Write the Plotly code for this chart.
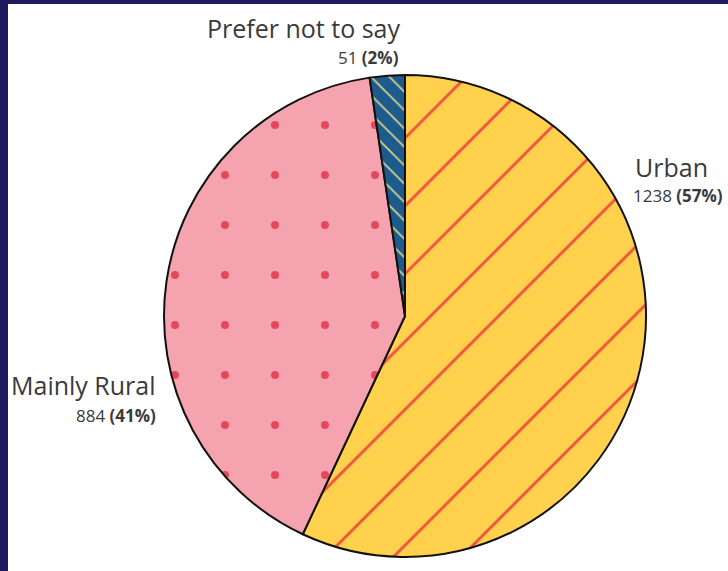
import plotly.graph_objects as go

# Respondent area type
categories = ["Urban", "Mainly Rural", "Prefer not to say"]
counts = [1238, 884, 51]
percent_labels = ["57%", "41%", "2%"]

fill_colors = ["#FFD14C", "#F5A4AF", "#1D5B8C"]
pattern_shapes = ["/", ".", "\\"]
pattern_colors = ["#EE5340", "#E4485A", "#CFD08C"]
pattern_sizes = [48, 50, 13]
pattern_solidity = [0.06, 0.02, 0.14]

W, H = 728, 571
FRAME = "#1F1B5E"
TEXT = "#3A3A3A"
FONT = "Open Sans"

fig = go.Figure(
    go.Pie(
        labels=categories,
        values=counts,
        sort=False,
        direction="clockwise",
        rotation=0,
        textinfo="none",
        hoverinfo="label+value+percent",
        marker=dict(
            colors=fill_colors,
            line=dict(color="#111111", width=2),
            pattern=dict(
                shape=pattern_shapes,
                fgcolor=pattern_colors,
                bgcolor=fill_colors,
                size=pattern_sizes,
                solidity=pattern_solidity,
                fillmode="replace",
            ),
        ),
        domain=dict(x=[164 / W, 646 / W], y=[(H - 557) / H, (H - 75) / H]),
        showlegend=False,
    )
)

# white card inside the dark frame
fig.add_shape(
    type="rect", xref="paper", yref="paper",
    x0=8 / W, x1=1, y0=0, y1=1 - 4 / H,
    fillcolor="white", line=dict(width=0), layer="below",
)


def px(x):
    return x / W


def py(y):
    return 1 - y / H


labels = [
    # (name, value text, title x, title y, value x, value y, anchor)
    ("Prefer not to say", f"{counts[2]} <b>({percent_labels[2]})</b>", 402, 28, 401, 57, "right"),
    ("Urban", f"{counts[0]} <b>({percent_labels[0]})</b>", 633, 167, 631, 195, "left"),
    ("Mainly Rural", f"{counts[1]} <b>({percent_labels[1]})</b>", 158, 385, 158, 415, "right"),
]

for name, val, tx, ty, vx, vy, anchor in labels:
    fig.add_annotation(
        text=name, x=px(tx), y=py(ty), xref="paper", yref="paper",
        xanchor=anchor, yanchor="middle", showarrow=False,
        font=dict(family=FONT, size=25, color=TEXT),
    )
    fig.add_annotation(
        text=val, x=px(vx), y=py(vy), xref="paper", yref="paper",
        xanchor=anchor, yanchor="middle", showarrow=False,
        font=dict(family=FONT, size=17, color=TEXT),
    )

fig.update_layout(
    width=W, height=H,
    margin=dict(l=0, r=0, t=0, b=0),
    paper_bgcolor=FRAME,
    plot_bgcolor="white",
)

fig.write_html("out.html")
